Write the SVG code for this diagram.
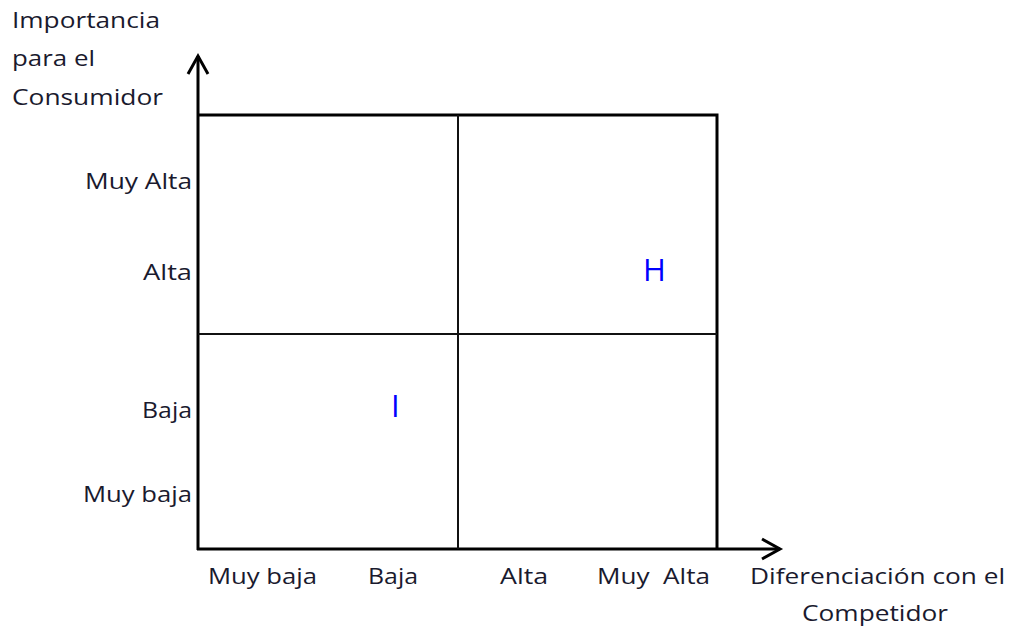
<svg xmlns="http://www.w3.org/2000/svg" width="1014" height="634" viewBox="0 0 1014 634">
<style>
.lbl{font-family:"Open Sans","Liberation Sans",sans-serif;font-size:21px;fill:#1a1a2e}
.r{text-anchor:end}
.m{font-family:"Open Sans","Liberation Sans",sans-serif;font-size:31px;fill:#0000ff}
.axis{stroke:#000;stroke-width:3;fill:none}
.grid{stroke:#111;stroke-width:2;fill:none}
</style>
<defs>
<marker id="arr" viewBox="0 0 24 24" refX="20" refY="12" markerWidth="24" markerHeight="24" markerUnits="userSpaceOnUse" orient="auto">
<path d="M2,2 L20,12 L2,22" fill="none" stroke="#000" stroke-width="3"/>
</marker>
</defs>
<rect width="1014" height="634" fill="#fff"/>
<g id="connectors">
<line class="axis" x1="198" y1="550" x2="198" y2="56" marker-end="url(#arr)"/>
<line class="axis" x1="197" y1="549" x2="780" y2="549" marker-end="url(#arr)"/>
<polyline class="axis" points="198,115 717,115 717,549"/>
<line class="grid" x1="458" y1="115" x2="458" y2="549"/>
<line class="grid" x1="198" y1="334" x2="717" y2="334"/>
</g>
<g id="y-title">
<text class="lbl" x="12" y="28" textLength="148" lengthAdjust="spacingAndGlyphs">Importancia</text>
<text class="lbl" x="12" y="66" textLength="83" lengthAdjust="spacingAndGlyphs">para el</text>
<text class="lbl" x="12" y="105" textLength="151" lengthAdjust="spacingAndGlyphs">Consumidor</text>
</g>
<g id="y-labels">
<text class="lbl" x="85" y="189" textLength="107" lengthAdjust="spacingAndGlyphs">Muy Alta</text>
<text class="lbl" x="143" y="280" textLength="49" lengthAdjust="spacingAndGlyphs">Alta</text>
<text class="lbl" x="142" y="418" textLength="50" lengthAdjust="spacingAndGlyphs">Baja</text>
<text class="lbl" x="83" y="502" textLength="109" lengthAdjust="spacingAndGlyphs">Muy baja</text>
</g>
<g id="x-labels">
<text class="lbl" x="208" y="584" textLength="109" lengthAdjust="spacingAndGlyphs">Muy baja</text>
<text class="lbl" x="368" y="584" textLength="50" lengthAdjust="spacingAndGlyphs">Baja</text>
<text class="lbl" x="500" y="584" textLength="48" lengthAdjust="spacingAndGlyphs">Alta</text>
<text class="lbl" x="597" y="584" textLength="113" lengthAdjust="spacingAndGlyphs" style="white-space:pre">Muy  Alta</text>
</g>
<g id="x-title">
<text class="lbl" x="750" y="584" textLength="255" lengthAdjust="spacingAndGlyphs">Diferenciación con el</text>
<text class="lbl" x="802" y="621" textLength="146" lengthAdjust="spacingAndGlyphs">Competidor</text>
</g>
<g id="point-H"><text class="m" x="643" y="281">H</text></g>
<g id="point-I"><text class="m" x="391" y="417">I</text></g>
</svg>
